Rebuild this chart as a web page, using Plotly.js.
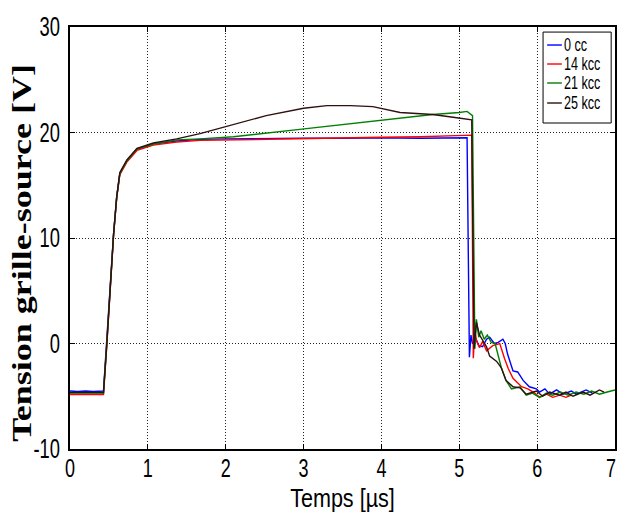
<!DOCTYPE html>
<html>
<head>
<meta charset="utf-8">
<script src="https://cdn.plot.ly/plotly-3.0.1.min.js"></script>
<style>html,body{margin:0;padding:0;background:#fff;}#chart{width:618px;height:513px;}</style>
</head>
<body>
<div id="chart"></div>
<script>
const seriesNames = ["0 cc", "14 kcc", "21 kcc", "25 kcc"];
const seriesColors = ["#0000ff", "#ff0000", "#007f00", "#2e1010"];

const t0 = [0, 0.1, 0.2, 0.3, 0.43, 0.47, 0.51, 0.56, 0.6, 0.64, 0.73, 0.86, 1.07, 1.37, 1.67, 2.0, 2.5, 3.0, 3.5, 4.0, 4.5, 5.0, 5.1, 5.13, 5.15, 5.17, 5.21, 5.25, 5.3, 5.35, 5.39, 5.45, 5.5, 5.56, 5.59, 5.62, 5.69, 5.75, 5.82, 5.9, 5.99, 6.03, 6.1, 6.16, 6.25, 6.33, 6.44, 6.5, 6.63, 6.71];
const v0 = [-4.5, -4.55, -4.5, -4.55, -4.5, -0.35, 4.7, 10.4, 13.9, 16.1, 17.3, 18.4, 18.9, 19.2, 19.35, 19.4, 19.45, 19.45, 19.45, 19.5, 19.45, 19.5, 19.5, -1.3, 0.8, 0.0, 0.5, -0.2, -0.3, 0.4, 0.6, 0.0, 0.1, 0.4, 0.0, -1.0, -2.6, -2.7, -3.5, -4.1, -4.3, -4.6, -4.3, -4.8, -4.4, -4.8, -4.5, -4.8, -4.4, -4.7];

const t14 = [0, 0.43, 0.47, 0.51, 0.56, 0.6, 0.64, 0.73, 0.86, 1.07, 1.37, 1.67, 2.0, 2.5, 3.0, 3.5, 4.0, 4.5, 5.0, 5.16, 5.18, 5.2, 5.22, 5.26, 5.3, 5.35, 5.43, 5.52, 5.58, 5.63, 5.69, 5.8, 5.88, 5.97, 6.03, 6.12, 6.2, 6.29, 6.37, 6.44];
const v14 = [-4.85, -4.85, -0.5, 4.6, 10.3, 13.8, 16.0, 17.2, 18.3, 18.8, 19.1, 19.25, 19.3, 19.35, 19.4, 19.5, 19.55, 19.6, 19.7, 19.75, -1.4, 1.2, 0.3, -0.4, 0.2, -0.7, -0.2, 0.0, -1.4, -2.4, -3.3, -4.1, -4.3, -4.7, -5.1, -4.8, -5.1, -4.9, -5.1, -4.9];

const t21 = [0, 0.43, 0.47, 0.51, 0.56, 0.6, 0.64, 0.73, 0.86, 1.07, 1.37, 1.67, 2.1, 2.95, 3.81, 4.66, 5.0, 5.1, 5.17, 5.2, 5.22, 5.25, 5.28, 5.32, 5.36, 5.41, 5.46, 5.5, 5.54, 5.6, 5.67, 5.78, 5.86, 5.94, 6.03, 6.12, 6.2, 6.3, 6.4, 6.5, 6.6, 6.7, 6.8, 6.9, 7.0];
const v21 = [-4.7, -4.7, -0.3, 4.7, 10.4, 13.9, 16.1, 17.3, 18.45, 18.9, 19.3, 19.4, 19.6, 20.3, 21.0, 21.7, 21.9, 22.0, 21.6, -0.5, 2.3, 0.6, 1.2, 0.4, 0.8, 0.1, 0.0, -1.2, -2.3, -3.5, -4.3, -4.1, -4.9, -4.7, -5.1, -4.7, -4.9, -4.6, -4.9, -4.6, -4.8, -4.5, -4.8, -4.6, -4.4];

const t25 = [0, 0.43, 0.47, 0.51, 0.56, 0.6, 0.64, 0.73, 0.86, 1.07, 1.37, 1.67, 2.01, 2.52, 3.0, 3.3, 3.6, 3.89, 4.24, 4.66, 4.92, 5.1, 5.16, 5.19, 5.22, 5.26, 5.3, 5.35, 5.39, 5.48, 5.54, 5.6, 5.69, 5.78, 5.86, 5.99, 6.07, 6.16, 6.29, 6.37, 6.46, 6.59, 6.68, 6.8, 6.86];
const v25 = [-4.65, -4.65, -0.35, 4.7, 10.4, 13.9, 16.2, 17.4, 18.5, 19.0, 19.4, 19.9, 20.6, 21.6, 22.3, 22.55, 22.55, 22.45, 21.9, 21.7, 21.45, 21.3, 21.2, -0.5, 2.0, 0.8, 0.3, -0.3, -1.2, -1.7, -2.3, -3.5, -4.1, -4.2, -4.8, -4.5, -5.0, -4.6, -4.9, -4.6, -5.0, -4.6, -4.9, -4.4, -4.6];

const xTicks = [0, 1, 2, 3, 4, 5, 6, 7];
const yTicks = [-10, 0, 10, 20, 30];

const allT = [t0, t14, t21, t25];
const allV = [v0, v14, v21, v25];

const traces = allT.map((t, i) => ({
  x: t, y: allV[i], type: 'scatter', mode: 'lines', name: seriesNames[i],
  showlegend: false,
  line: {color: seriesColors[i], width: 1.4}
}));

// legend box drawn in paper coordinates
const legX0 = 0.868, legX1 = 0.993, legY0 = 0.7725, legY1 = 0.988;
const legRows = [0.9573, 0.9123, 0.8673, 0.8199];
const shapes = [{type: 'rect', xref: 'paper', yref: 'paper', x0: legX0, x1: legX1, y0: legY0, y1: legY1,
  line: {color: '#000', width: 1}, fillcolor: '#fff', layer: 'above'}];
const annotations = [];
seriesNames.forEach((n, i) => {
  shapes.push({type: 'line', xref: 'paper', yref: 'paper', x0: 0.8755, x1: 0.9025, y0: legRows[i], y1: legRows[i],
    line: {color: seriesColors[i], width: 1.4}, layer: 'above'});
  annotations.push({xref: 'paper', yref: 'paper', x: 0.905, y: legRows[i], xanchor: 'left', yanchor: 'middle',
    text: n, showarrow: false, borderpad: 0,
    font: {family: 'Liberation Sans, Arial, sans-serif', size: 18, color: '#000'}});
});

const tickFontX = {family: 'Liberation Sans, Arial, sans-serif', size: 25, color: '#000'};
const tickFontY = {family: 'Liberation Sans, Arial, sans-serif', size: 27, color: '#000'};

const layout = {
  width: 618, height: 513,
  margin: {l: 70, r: 3, t: 27, b: 64},
  paper_bgcolor: '#fff', plot_bgcolor: '#fff',
  showlegend: false,
  shapes: shapes,
  annotations: annotations,
  xaxis: {
    range: [0, 7], tickvals: xTicks, ticktext: xTicks.map(String), automargin: false,
    ticklabeloverflow: 'allow',
    showgrid: true, gridcolor: '#222', gridwidth: 1, griddash: '1px,2px',
    zeroline: false, showline: true, linecolor: '#000', linewidth: 1.6, mirror: 'ticks',
    ticks: 'inside', ticklen: 5, tickcolor: '#000', tickfont: tickFontX, ticklabelstandoff: 2,
    title: {text: 'Temps [µs]', font: {family: 'Liberation Sans, Arial, sans-serif', size: 26, color: '#000'}, standoff: 0}
  },
  yaxis: {
    range: [-10, 30], tickvals: yTicks, ticktext: yTicks.map(String), automargin: false,
    ticklabeloverflow: 'allow',
    showgrid: true, gridcolor: '#222', gridwidth: 1, griddash: '1px,2px',
    zeroline: false, showline: true, linecolor: '#000', linewidth: 1.6, mirror: 'ticks',
    ticks: 'inside', ticklen: 5, tickcolor: '#000', tickfont: tickFontY, ticklabelstandoff: 3,
    title: {text: '<b>Tension grille-source [V]</b>', font: {family: 'Liberation Serif, Times New Roman, serif', size: 36, color: '#000'}, standoff: 0}
  }
};

// The source figure text is horizontally condensed; reproduce by scaling text in x.
function squeeze(el, sx, mode, dx, dy) {
  const r = el.getBoundingClientRect();
  const ctm = el.parentNode.getScreenCTM();
  const px = mode === 'start' ? r.left : (mode === 'end' ? r.right : (r.left + r.right) / 2);
  const ax = px - ctm.e;
  const prev = el.getAttribute('transform') || '';
  el.setAttribute('transform', `translate(${dx || 0},${dy || 0}) translate(${ax},0) scale(${sx},1) translate(${-ax},0) ` + prev);
}

Plotly.newPlot('chart', traces, layout, {staticPlot: true, displayModeBar: false}).then(gd => {
  const xt = gd.querySelectorAll('.xtick text');
  xt.forEach((el, i) => squeeze(el, 0.72, 'middle', i === xt.length - 1 ? -4 : 0, -6));
  gd.querySelectorAll('.ytick text').forEach(el => squeeze(el, 0.68, 'end'));
  gd.querySelectorAll('.g-xtitle text').forEach(el => squeeze(el, 0.83, 'middle', 0, 0));
  gd.querySelectorAll('.g-ytitle text').forEach(el => squeeze(el, 0.75, 'middle', 2, 15));
  gd.querySelectorAll('.annotation-text').forEach(el => squeeze(el, 0.7, 'start'));
});
</script>
</body>
</html>
